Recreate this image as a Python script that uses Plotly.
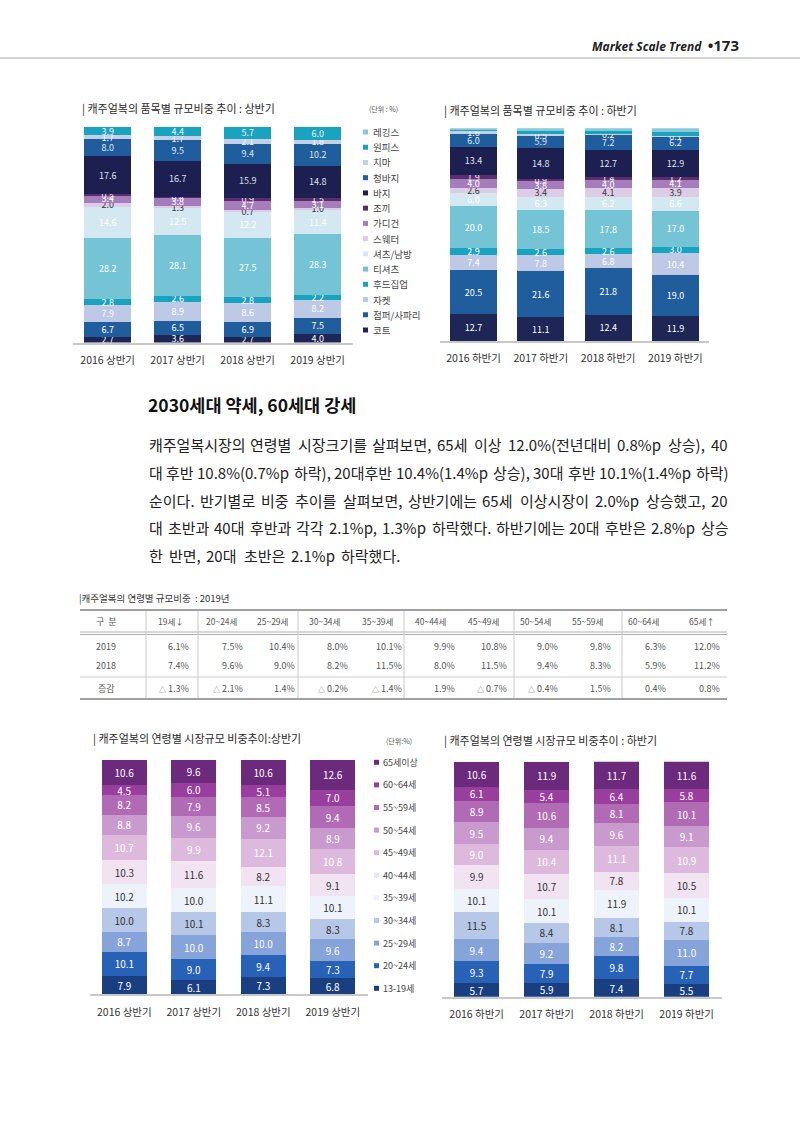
import plotly.graph_objects as go

W, H = 800, 1131
FONT = "Noto Sans CJK KR"


def px(x):
    return x / W


def py(y):
    return 1 - y / H


# ---------------- DATA ----------------
periods_h1 = ["2016 상반기", "2017 상반기", "2018 상반기", "2019 상반기"]
periods_h2 = ["2016 하반기", "2017 하반기", "2018 하반기", "2019 하반기"]

# item names, legend order (top -> bottom)
item_names = ["레깅스", "원피스", "치마", "청바지", "바지", "조끼", "가디건", "스웨터",
              "셔츠/남방", "티셔츠", "후드집업", "자켓", "점퍼/사파리", "코트"]

# first half (상반기) shares by item, %
h1_leggings = [0.0, 0.0, 0.0, 0.0]
h1_onepiece = [3.9, 4.4, 5.7, 6.0]
h1_skirt = [1.7, 1.7, 2.1, 1.8]
h1_jeans = [8.0, 9.5, 9.4, 10.2]
h1_pants = [17.6, 16.7, 15.9, 14.8]
h1_vest = [0.5, 0.4, 0.9, 1.5]
h1_cardigan = [3.4, 3.8, 4.7, 3.1]
h1_sweater = [2.0, 1.3, 0.7, 1.0]
h1_shirt = [14.6, 12.5, 12.2, 11.4]
h1_tshirt = [28.2, 28.1, 27.5, 28.3]
h1_hood = [2.8, 2.6, 2.8, 2.2]
h1_jacket = [7.9, 8.9, 8.6, 8.2]
h1_jumper = [6.7, 6.5, 6.9, 7.5]
h1_coat = [2.7, 3.6, 2.7, 4.0]

# second half (하반기) shares by item, %
h2_leggings = [0.6, 1.2, 1.3, 1.8]
h2_onepiece = [0.4, 1.6, 1.5, 1.9]
h2_skirt = [1.6, 0.5, 0.2, 0.1]
h2_jeans = [6.0, 5.9, 7.2, 6.2]
h2_pants = [13.4, 14.8, 12.7, 12.9]
h2_vest = [1.9, 0.9, 1.4, 1.2]
h2_cardigan = [4.0, 3.8, 4.0, 4.1]
h2_sweater = [2.6, 3.4, 4.1, 3.9]
h2_shirt = [6.0, 6.3, 6.2, 6.6]
h2_tshirt = [20.0, 18.5, 17.8, 17.0]
h2_hood = [2.9, 2.6, 2.6, 3.0]
h2_jacket = [7.4, 7.8, 6.8, 10.4]
h2_jumper = [20.5, 21.6, 21.8, 19.0]
h2_coat = [12.7, 11.1, 12.4, 11.9]

h1_items = [h1_leggings, h1_onepiece, h1_skirt, h1_jeans, h1_pants, h1_vest, h1_cardigan,
            h1_sweater, h1_shirt, h1_tshirt, h1_hood, h1_jacket, h1_jumper, h1_coat]
h2_items = [h2_leggings, h2_onepiece, h2_skirt, h2_jeans, h2_pants, h2_vest, h2_cardigan,
            h2_sweater, h2_shirt, h2_tshirt, h2_hood, h2_jacket, h2_jumper, h2_coat]

# age groups, legend order (top -> bottom)
age_names = ["65세이상", "60~64세", "55~59세", "50~54세", "45~49세", "40~44세",
             "35~39세", "30~34세", "25~29세", "20~24세", "13-19세"]

a1_65 = [10.6, 9.6, 10.6, 12.6]
a1_60 = [4.5, 6.0, 5.1, 7.0]
a1_55 = [8.2, 7.9, 8.5, 9.4]
a1_50 = [8.8, 9.6, 9.2, 8.9]
a1_45 = [10.7, 9.9, 12.1, 10.8]
a1_40 = [10.3, 11.6, 8.2, 9.1]
a1_35 = [10.2, 10.0, 11.1, 10.1]
a1_30 = [10.0, 10.1, 8.3, 8.3]
a1_25 = [8.7, 10.0, 10.0, 9.6]
a1_20 = [10.1, 9.0, 9.4, 7.3]
a1_13 = [7.9, 6.1, 7.3, 6.8]

a2_65 = [10.6, 11.9, 11.7, 11.6]
a2_60 = [6.1, 5.4, 6.4, 5.8]
a2_55 = [8.9, 10.6, 8.1, 10.1]
a2_50 = [9.5, 9.4, 9.6, 9.1]
a2_45 = [9.0, 10.4, 11.1, 10.9]
a2_40 = [9.9, 10.7, 7.8, 10.5]
a2_35 = [10.1, 10.1, 11.9, 10.1]
a2_30 = [11.5, 8.4, 8.1, 7.8]
a2_25 = [9.4, 9.2, 8.2, 11.0]
a2_20 = [9.3, 7.9, 9.8, 7.7]
a2_13 = [5.7, 5.9, 7.4, 5.5]

a1_ages = [a1_65, a1_60, a1_55, a1_50, a1_45, a1_40, a1_35, a1_30, a1_25, a1_20, a1_13]
a2_ages = [a2_65, a2_60, a2_55, a2_50, a2_45, a2_40, a2_35, a2_30, a2_25, a2_20, a2_13]

# table: 2019 age shares
table_cols = ["19세↓", "20~24세", "25~29세", "30~34세", "35~39세", "40~44세",
              "45~49세", "50~54세", "55~59세", "60~64세", "65세↑"]
share_2019 = [6.1, 7.5, 10.4, 8.0, 10.1, 9.9, 10.8, 9.0, 9.8, 6.3, 12.0]
share_2018 = [7.4, 9.6, 9.0, 8.2, 11.5, 8.0, 11.5, 9.4, 8.3, 5.9, 11.2]
share_change = [-1.3, -2.1, 1.4, -0.2, -1.4, 1.9, -0.7, -0.4, 1.5, 0.4, 0.8]

# ---------------- STYLE ----------------
item_colors = ["#86c9d9", "#19a3bf", "#c4d0e6", "#1f5d9c", "#1c1f4f", "#5b2f6e", "#a57dbb",
               "#ddcce6", "#d3e8f1", "#74c4d6", "#19a3bf", "#bdc9e5", "#1f5d9c", "#1d2654"]
item_text_colors = ["#ffffff", "#eaf6fa", "#f4f6fb", "#dfe8f4", "#dfe2f0", "#eee6f2", "#ffffff",
                    "#3a3a3a", "#ffffff", "#ffffff", "#ffffff", "#ffffff", "#ffffff", "#ffffff"]
h1_label_on = [False, True, True, True, True, True, True, True, True, True, True, True, True, True]
h2_label_on = [False, False, True, True, True, True, True, True, True, True, True, True, True, True]

age_colors = ["#6c2a7c", "#983e9d", "#b16bb5", "#c99acd", "#ddbadd", "#f2e3f2",
              "#eef2fa", "#b6c7e8", "#86a3da", "#2862b6", "#1a3f80"]
age_text_colors = ["#ffffff", "#ffffff", "#ffffff", "#ffffff", "#ffffff", "#333333",
                   "#333333", "#333333", "#ffffff", "#ffffff", "#ffffff"]

fig = go.Figure()

panels = [
    dict(ax="", xd=(72.7, 352.7), yd=(127, 342.5), cats=periods_h1, series=h1_items, names=item_names,
         colors=item_colors, tcolors=item_text_colors, lab=h1_label_on, bw=0.67, fs=9),
    dict(ax="2", xd=(439.9, 709.1), yd=(128.3, 341), cats=periods_h2, series=h2_items, names=item_names,
         colors=item_colors, tcolors=item_text_colors, lab=h2_label_on, bw=0.70, fs=9),
    dict(ax="3", xd=(89.6, 367.6), yd=(760, 994.3), cats=periods_h1, series=a1_ages, names=age_names,
         colors=age_colors, tcolors=age_text_colors, lab=[True] * 11, bw=0.65, fs=10),
    dict(ax="4", xd=(441.7, 721.7), yd=(761.7, 996.7), cats=periods_h2, series=a2_ages, names=age_names,
         colors=age_colors, tcolors=age_text_colors, lab=[True] * 11, bw=0.64, fs=10),
]

for p in panels:
    n = len(p["names"])
    for i in reversed(range(n)):  # stack bottom-first
        vals = p["series"][i]
        fig.add_trace(go.Bar(
            x=p["cats"], y=vals, name=p["names"][i],
            xaxis="x" + p["ax"], yaxis="y" + p["ax"],
            marker=dict(color=p["colors"][i], line=dict(width=0)),
            width=p["bw"],
            text=[f"{v:.1f}" if p["lab"][i] else "" for v in vals],
            textposition="inside", insidetextanchor="middle", textangle=0,
            constraintext="none",
            textfont=dict(family=FONT, size=p["fs"], color=p["tcolors"][i]),
            showlegend=False, hoverinfo="skip",
        ))
    xa = dict(domain=[px(p["xd"][0]), px(p["xd"][1])], type="category", range=[-0.5, 3.5],
              showline=True, linecolor="#c8c8c8", linewidth=1.5, ticks="", showgrid=False,
              tickfont=dict(family=FONT, size=10.5, color="#333333"), ticklabelstandoff=7,
              anchor="y" + p["ax"], fixedrange=True)
    ya = dict(domain=[py(p["yd"][1]), py(p["yd"][0])], range=[0, 100], visible=False,
              anchor="x" + p["ax"], fixedrange=True)
    fig.update_layout(**{"xaxis" + p["ax"]: xa, "yaxis" + p["ax"]: ya})

annotations = []
shapes = []


def text(x, y, s, size=10, color="#333333", anchor="left", family=FONT, yanchor="middle"):
    annotations.append(dict(x=px(x), y=py(y), xref="paper", yref="paper", text=s, showarrow=False,
                            xanchor=anchor, yanchor=yanchor,
                            font=dict(family=family, size=size, color=color)))


def hline(x0, x1, y, color="#999999", width=1):
    shapes.append(dict(type="line", xref="paper", yref="paper", x0=px(x0), x1=px(x1), y0=py(y), y1=py(y),
                       line=dict(color=color, width=width)))


def vline(x, y0, y1, color="#bbbbbb", width=1):
    shapes.append(dict(type="line", xref="paper", yref="paper", x0=px(x), x1=px(x), y0=py(y0), y1=py(y1),
                       line=dict(color=color, width=width)))


def square(x, y, s, color):
    shapes.append(dict(type="rect", xref="paper", yref="paper", x0=px(x), x1=px(x + s),
                       y0=py(y + s / 2), y1=py(y - s / 2), fillcolor=color, line=dict(width=0)))


# page header
text(741, 45, "<b><i>Market Scale Trend</i></b>  <b><span style='font-size:15px'>•173</span></b>",
     size=12, color="#222222", anchor="right", family="Open Sans")
hline(0, 800, 58, color="#aaaaaa", width=1)

# chart titles
text(80, 108, "| 캐주얼복의 품목별 규모비중 추이 : 상반기", size=11, color="#2a2a2a")
text(442, 110, "| 캐주얼복의 품목별 규모비중 추이 : 하반기", size=11, color="#2a2a2a")
text(91, 738, "| 캐주얼복의 연령별 시장규모 비중추이:상반기", size=11, color="#2a2a2a")
text(442, 740, "| 캐주얼복의 연령별 시장규모 비중추이 : 하반기", size=11, color="#2a2a2a")

# unit notes
text(367, 109, "(단위 : %)", size=7, color="#555555")
text(384, 741, "(단위:%)", size=7, color="#555555")

# legend top-left (items)
ly0, ly1 = 132, 330
for i, nm in enumerate(item_names):
    yy = ly0 + (ly1 - ly0) * i / (len(item_names) - 1)
    square(363, yy, 5, item_colors[i])
    text(371, yy, nm, size=9.5, color="#444444")

# legend bottom-left (ages)
ly0, ly1 = 762.3, 988.3
for i, nm in enumerate(age_names):
    yy = ly0 + (ly1 - ly0) * i / (len(age_names) - 1)
    square(374, yy, 5, age_colors[i])
    text(381, yy, nm, size=9, color="#444444")

# body heading and paragraph
text(146, 405, "<b>2030세대 약세, 60세대 강세</b>", size=17.5, color="#111111")

body_lines = [
    "캐주얼복시장의 연령별 시장크기를 살펴보면, 65세 이상 12.0%(전년대비 0.8%p 상승), 40",
    "대 후반 10.8%(0.7%p 하락), 20대후반 10.4%(1.4%p 상승), 30대 후반 10.1%(1.4%p 하락)",
    "순이다. 반기별로 비중 추이를 살펴보면, 상반기에는 65세 이상시장이 2.0%p 상승했고, 20",
    "대 초반과 40대 후반과 각각 2.1%p, 1.3%p 하락했다. 하반기에는 20대 후반은 2.8%p 상승",
    "한 반면, 20대 초반은 2.1%p 하락했다.",
]
body_y = [444, 472, 500, 527.5, 555]
BODY_SIZE = 15
LEFT, RIGHT = 147, 726


def est_width(s, size):
    w = 0.0
    for ch in s:
        o = ord(ch)
        if 0xAC00 <= o <= 0xD7A3:
            w += 0.905
        elif ch.isdigit():
            w += 0.58
        elif ch == "%":
            w += 0.9
        elif ch in ".,":
            w += 0.27
        elif ch in "()":
            w += 0.35
        elif ch == "p":
            w += 0.62
        else:
            w += 0.5
    return w * size


for li, (line, yy) in enumerate(zip(body_lines, body_y)):
    words = line.split(" ")
    widths = [est_width(wd, BODY_SIZE) for wd in words]
    if li == len(body_lines) - 1:
        gap = 0.42 * BODY_SIZE
    else:
        gap = (RIGHT - LEFT - sum(widths)) / (len(words) - 1)
    x = LEFT
    for wd, wdt in zip(words, widths):
        text(x, yy, wd, size=BODY_SIZE, color="#222222")
        x += wdt + gap

# table
text(77, 598, "|캐주얼복의 연령별 규모비중  : 2019년", size=9.5, color="#333333")
TL, TR = 80, 727
hline(TL, TR, 610, color="#a0a0a0", width=2)
hline(TL, TR, 632, color="#b0b0b0", width=1)
hline(TL, TR, 634.5, color="#b0b0b0", width=1)
hline(TL, TR, 677, color="#cccccc", width=1)
hline(TL, TR, 699, color="#a0a0a0", width=2)
for vx in [146, 198, 298, 404, 514, 622]:
    vline(vx, 611, 698, color="#c8c8c8", width=1)

col_centers = [171, 221, 272, 324, 377, 430, 483, 535, 587, 643, 702]
col_rights = [191, 245, 297, 350, 404, 457, 509, 560, 613, 668, 722]
row_y = dict(head=621, r2019=646, r2018=665, chg=688)
text(106, row_y["head"], "구  분", size=9, color="#555555", anchor="center")
text(106, row_y["r2019"], "2019", size=9, color="#555555", anchor="center")
text(106, row_y["r2018"], "2018", size=9, color="#555555", anchor="center")
text(106, row_y["chg"], "증감", size=9, color="#555555", anchor="center")
for i, c in enumerate(table_cols):
    text(col_centers[i], row_y["head"], c, size=8.5, color="#555555", anchor="center")
    text(col_rights[i], row_y["r2019"], f"{share_2019[i]:.1f}%", size=9, color="#555555", anchor="right")
    text(col_rights[i], row_y["r2018"], f"{share_2018[i]:.1f}%", size=9, color="#555555", anchor="right")
    v = share_change[i]
    s = f"<span style='font-size:7px'>△</span> {abs(v):.1f}%" if v < 0 else f"{v:.1f}%"
    text(col_rights[i], row_y["chg"], s, size=9, color="#555555", anchor="right")

fig.update_layout(
    width=W, height=H, margin=dict(l=0, r=0, t=0, b=0),
    paper_bgcolor="white", plot_bgcolor="white",
    barmode="stack", bargap=0.3, showlegend=False,
    annotations=annotations, shapes=shapes,
    font=dict(family=FONT),
)

fig.write_html("out.html")
